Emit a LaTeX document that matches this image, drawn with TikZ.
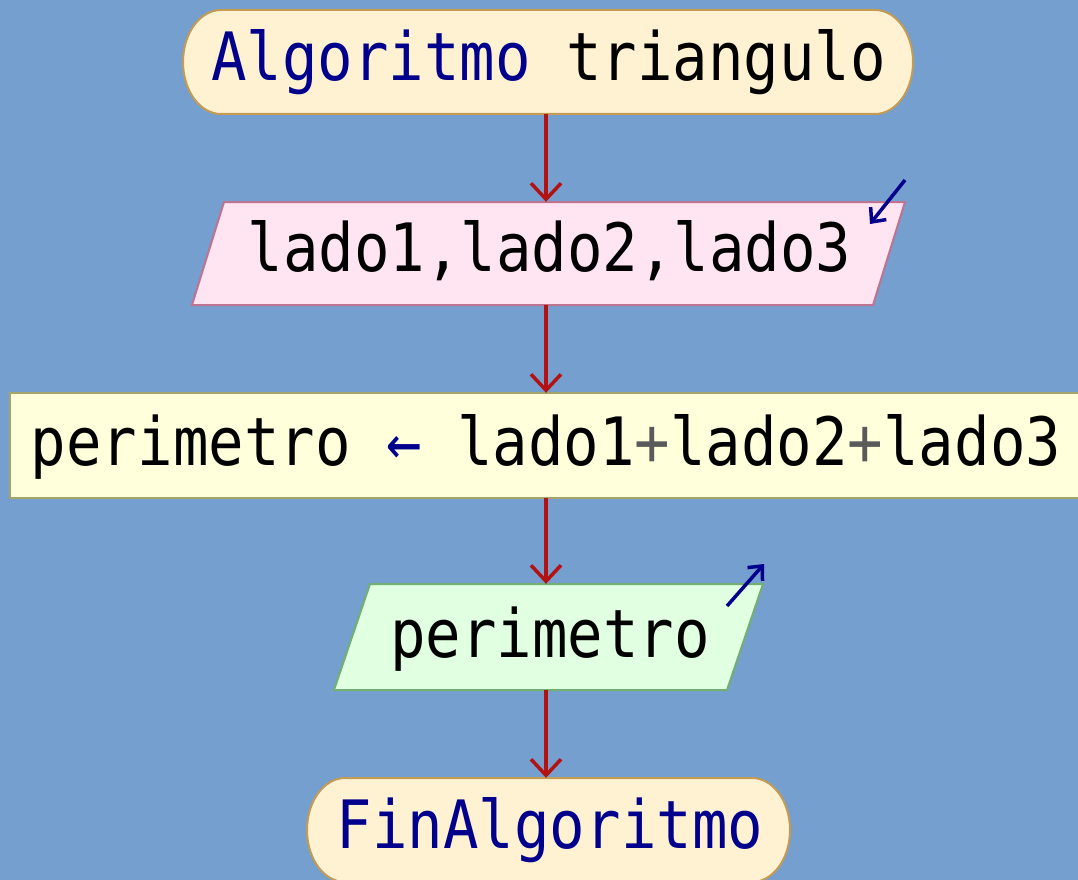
\documentclass[tikz,border=0pt]{standalone}
\usepackage{fontspec}
\usepackage{graphicx}
\newfontfamily\dmono{DejaVu Sans Mono}
\usetikzlibrary{arrows.meta}
\definecolor{bg}{RGB}{116,159,206}
\definecolor{termfill}{RGB}{255,242,210}
\definecolor{termline}{RGB}{195,155,85}
\definecolor{infill}{RGB}{255,228,242}
\definecolor{inline}{RGB}{190,115,145}
\definecolor{procfill}{RGB}{255,255,220}
\definecolor{procline}{RGB}{165,165,105}
\definecolor{outfill}{RGB}{225,255,225}
\definecolor{outline}{RGB}{115,175,115}
\definecolor{conn}{RGB}{180,18,18}
\definecolor{navy}{RGB}{0,0,140}
\definecolor{opgray}{RGB}{90,90,90}
\begin{document}
\begin{tikzpicture}[x=1pt,y=-1pt,
  txt/.style={font=\dmono\fontsize{59}{59}\selectfont, inner sep=0pt, anchor=base},
  anchorbox/.style={draw=none, inner sep=0pt, minimum width=#1, minimum height=104pt},
  term/.style={fill=termfill, draw=termline, line width=2pt},
  inp/.style={fill=infill, draw=inline, line width=2pt},
  proc/.style={fill=procfill, draw=procline, line width=2pt},
  outp/.style={fill=outfill, draw=outline, line width=2pt},
  flow/.style={draw=conn, line width=3.5pt, -{Straight Barb[length=16pt,width=30pt]}},
  ioarrow/.style={draw=navy, line width=3.5pt, -{Straight Barb[length=11pt,width=20pt]}}]
\useasboundingbox (0,0) rectangle (1078,880);
\fill[bg] (0,0) rectangle (1078,880);

% shapes
\draw[term] (221,10) -- (875,10) arc(-90:90:38 and 52) -- (221,114) arc(90:270:38 and 52) -- cycle;
\draw[inp] (224,202) -- (905,202) -- (873,305) -- (192,305) -- cycle;
\draw[proc] (10,393) rectangle (1095,498);
\draw[outp] (370,584) -- (763,584) -- (727,690) -- (334,690) -- cycle;
\draw[term] (345,778) -- (752,778) arc(-90:90:38 and 52) -- (345,882) arc(90:270:38 and 52) -- cycle;

% anchor nodes
\node[anchorbox=700pt] (start) at (546,62) {};
\node[anchorbox=680pt, minimum height=103pt] (input) at (546,253.5) {};
\node[anchorbox=1000pt, minimum height=105pt] (process) at (546,445.5) {};
\node[anchorbox=390pt, minimum height=106pt] (output) at (546,637) {};
\node[anchorbox=480pt] (finish) at (546,830) {};

% texts
\node[txt] (tstart) at (548.5,81) {\scalebox{1}[1.13]{\textcolor{navy}{Algoritmo} triangulo}};
\node[txt] (tinput) at (549.5,271) {\scalebox{1}[1.13]{lado1,lado2,lado3}};
\node[txt] (tproc) at (546,465) {\scalebox{1}[1.13]{perimetro \textcolor{navy}{←} lado1\textcolor{opgray}{+}lado2\textcolor{opgray}{+}lado3}};
\node[txt] (tout) at (550,657) {\scalebox{1}[1.13]{perimetro}};
\node[txt] (tfinish) at (550,848) {\scalebox{1}[1.13]{\textcolor{navy}{FinAlgoritmo}}};

% connectors
\draw[flow] (start.south) -- (input.north);
\draw[flow] (input.south) -- (process.north);
\draw[flow] (process.south) -- (output.north);
\draw[flow] (output.south) -- (finish.north);

% io markers
\coordinate (inA) at (905,180);
\coordinate (inB) at (870,224);
\draw[ioarrow] (inA) -- (inB);
\coordinate (outA) at (727,606);
\coordinate (outB) at (764,564);
\draw[ioarrow] (outA) -- (outB);
\end{tikzpicture}
\end{document}
